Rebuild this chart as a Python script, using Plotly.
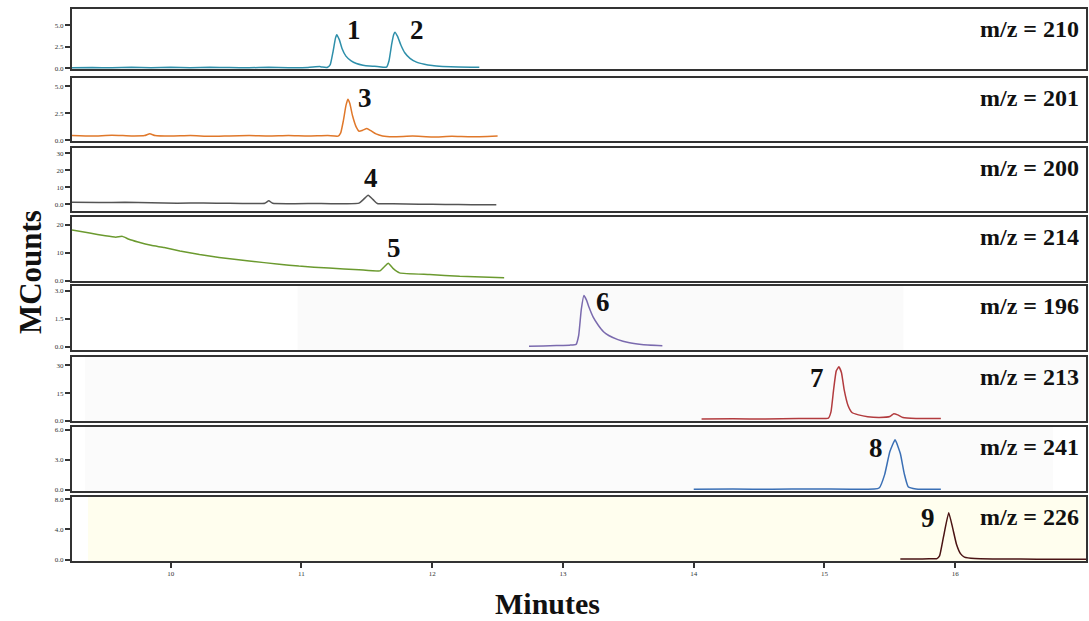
import plotly.graph_objects as go

# ---------------- data ----------------
panel_labels = ["m/z = 210", "m/z = 201", "m/z = 200", "m/z = 214",
                "m/z = 196", "m/z = 213", "m/z = 241", "m/z = 226"]

t_210 = [9.245, 9.40, 9.55, 9.70, 9.85, 10.00, 10.15, 10.30, 10.45, 10.60, 10.75, 10.90, 11.05, 11.14, 11.16,
         11.20, 11.22, 11.24, 11.26, 11.27, 11.29, 11.31, 11.34, 11.38, 11.42, 11.47, 11.52, 11.58, 11.65,
         11.67, 11.69, 11.705, 11.715, 11.735, 11.76, 11.79, 11.83, 11.88, 11.94, 12.00, 12.08, 12.20, 12.36]
y_210 = [0.05, 0.08, 0.04, 0.10, 0.06, 0.09, 0.05, 0.10, 0.07, 0.05, 0.09, 0.06, 0.08, 0.18, 0.12,
         0.10, 0.4, 1.8, 3.5, 3.9, 3.3, 2.3, 1.4, 0.85, 0.55, 0.35, 0.25, 0.2, 0.12,
         0.9, 2.8, 3.9, 4.2, 3.7, 2.7, 1.8, 1.15, 0.7, 0.45, 0.3, 0.2, 0.12, 0.1]

t_201 = [9.245, 9.40, 9.55, 9.70, 9.80, 9.84, 9.88, 10.00, 10.15, 10.30, 10.45, 10.60, 10.75, 10.90, 11.05,
         11.20, 11.28, 11.30, 11.32, 11.34, 11.355, 11.37, 11.39, 11.42, 11.44, 11.47, 11.50, 11.53, 11.57,
         11.62, 11.70, 11.85, 12.00, 12.15, 12.30, 12.50]
y_201 = [0.45, 0.40, 0.48, 0.42, 0.45, 0.62, 0.45, 0.40, 0.45, 0.38, 0.42, 0.45, 0.40, 0.45, 0.40,
         0.45, 0.40, 0.7, 1.8, 3.2, 3.8, 3.4, 2.3, 1.2, 0.85, 0.95, 1.1, 0.9, 0.6,
         0.42, 0.35, 0.40, 0.32, 0.38, 0.33, 0.42]

t_200 = [9.245, 9.45, 9.65, 9.85, 10.05, 10.25, 10.45, 10.65, 10.72, 10.75, 10.78, 10.95, 11.15, 11.35,
         11.44, 11.47, 11.51, 11.55, 11.58, 11.70, 11.90, 12.10, 12.30, 12.49]
y_200 = [1.2, 1.0, 1.1, 0.8, 0.6, 0.7, 0.5, 0.4, 0.6, 2.0, 0.5, 0.3, 0.4, 0.2,
         0.6, 2.5, 5.3, 2.5, 0.4, 0.2, 0.0, -0.2, -0.3, -0.3]

t_214 = [9.245, 9.38, 9.50, 9.58, 9.63, 9.68, 9.75, 9.85, 9.95, 10.07, 10.22, 10.37, 10.60, 10.83, 10.98,
         11.21, 11.44, 11.60, 11.63, 11.664, 11.70, 11.75, 11.98, 12.21, 12.55]
y_214 = [18.1, 17.0, 16.0, 15.5, 15.8, 14.8, 13.8, 12.6, 11.8, 10.6, 9.3, 8.3, 7.0, 5.9, 5.2,
         4.5, 3.9, 3.5, 4.8, 6.2, 4.4, 2.8, 2.2, 1.6, 1.1]

t_196 = [12.74, 12.85, 12.95, 13.05, 13.10, 13.12, 13.14, 13.16, 13.18, 13.20, 13.23, 13.27, 13.31, 13.35,
         13.42, 13.50, 13.60, 13.76]
y_196 = [0.02, 0.04, 0.06, 0.08, 0.12, 0.6, 2.0, 2.75, 2.5, 2.1, 1.6, 1.15, 0.8, 0.6,
         0.38, 0.22, 0.12, 0.05]

t_213 = [14.06, 14.30, 14.55, 14.80, 14.95, 15.03, 15.05, 15.07, 15.09, 15.11, 15.13, 15.15, 15.18, 15.21,
         15.26, 15.33, 15.42, 15.50, 15.53, 15.56, 15.60, 15.70, 15.89]
y_213 = [1.0, 1.1, 1.0, 1.2, 1.2, 1.5, 5.0, 17.0, 27.0, 29.2, 26.0, 17.0, 8.3, 4.5,
         3.2, 2.2, 1.8, 2.3, 3.8, 3.2, 1.8, 1.3, 1.2]

t_241 = [14.00, 14.30, 14.60, 14.90, 15.20, 15.38, 15.42, 15.46, 15.50, 15.54, 15.58, 15.61, 15.64, 15.70, 15.89]
y_241 = [0.05, 0.06, 0.05, 0.07, 0.05, 0.06, 0.2, 1.5, 3.8, 4.97, 3.6, 1.6, 0.3, 0.08, 0.05]

t_226 = [15.58, 15.70, 15.80, 15.86, 15.88, 15.91, 15.95, 15.98, 16.01, 16.04, 16.07, 16.15, 16.30, 16.50,
         16.75, 17.0]
y_226 = [0.1, 0.1, 0.12, 0.15, 0.5, 3.0, 6.2, 4.2, 2.0, 0.8, 0.35, 0.15, 0.1, 0.08, 0.05, 0.05]

series_t = [t_210, t_201, t_200, t_214, t_196, t_213, t_241, t_226]
series_y = [y_210, y_201, y_200, y_214, y_196, y_213, y_241, y_226]

ytick_vals = [[0, 2.5, 5.0], [0, 2.5, 5.0], [0, 10, 20, 30], [0, 10, 20],
              [0, 1.5, 3.0], [0, 15, 30], [0, 3.0, 6.0], [0, 4.0, 8.0]]
ytick_text = [["0.0", "2.5", "5.0"], ["0.0", "2.5", "5.0"], ["0.0", "10", "20", "30"], ["0.0", "10", "20"],
              ["0.0", "1.5", "3.0"], ["0.0", "15", "30"], ["0.0", "3.0", "6.0"], ["0.0", "4.0", "8.0"]]
xtick_vals = [10, 11, 12, 13, 14, 15, 16]

peak_names = ["1", "2", "3", "4", "5", "6", "7", "8", "9"]

# ---------------- style / layout ----------------
colors = ["#2E8FAA", "#E0782A", "#555555", "#6B9A2F", "#7A6AAE", "#B23B3E", "#3A6FB5", "#4A1414"]
y_ranges = [[-0.1, 6.9], [-0.05, 5.75], [-4, 33], [-0.1, 22.7],
            [-0.18, 3.26], [-0.1, 34.5], [-0.13, 6.25], [-0.17, 8.27]]
panel_px = [(9, 69), (78, 141), (148, 211), (217, 281), (286, 350), (357, 421), (427, 491), (497, 561)]

W, H = 1089, 621
ML, MR, MT, MB = 72, 1, 9, 60
PH = H - MT - MB  # 552


def py2paper(py):
    return (H - MB - py) / PH


XR = [9.245, 17.0]
PW = W - ML - MR


def px2t(px):
    return XR[0] + (px - ML) / PW * (XR[1] - XR[0])


serif = "Liberation Serif, Times New Roman, serif"
fig = go.Figure()

for i in range(8):
    n = i + 1
    fig.add_trace(go.Scatter(
        x=series_t[i], y=series_y[i], mode="lines",
        line=dict(color=colors[i], width=1.5, shape="spline", smoothing=0.4),
        xaxis="x" if n == 1 else f"x{n}", yaxis="y" if n == 1 else f"y{n}",
        showlegend=False, hoverinfo="skip"))

layout = dict(width=W, height=H, margin=dict(l=ML, r=MR, t=MT, b=MB),
              plot_bgcolor="rgba(0,0,0,0)", paper_bgcolor="white",
              font=dict(family=serif, color="#222"))

for i in range(8):
    n = i + 1
    top, bot = panel_px[i]
    xa = dict(range=XR, domain=[0, 1], anchor="y" if n == 1 else f"y{n}",
              showline=True, linecolor="#333", linewidth=2, mirror=True,
              showgrid=False, zeroline=False,
              tickvals=xtick_vals, ticktext=[str(v) for v in xtick_vals],
              tickfont=dict(size=7, family=serif, color="#333"))
    if n != 1:
        xa["matches"] = "x"
    if n == 8:
        xa.update(ticks="outside", ticklen=5, tickwidth=1.5, tickcolor="#333", showticklabels=True)
    else:
        xa.update(ticks="", showticklabels=False)
    ya = dict(range=y_ranges[i], domain=[py2paper(bot), py2paper(top)],
              anchor="x" if n == 1 else f"x{n}",
              showline=True, linecolor="#333", linewidth=2, mirror=True,
              showgrid=False, zeroline=False,
              tickvals=ytick_vals[i], ticktext=ytick_text[i],
              ticks="outside", ticklen=5, tickwidth=1.5, tickcolor="#333",
              tickfont=dict(size=7, family=serif, color="#333"))
    layout["xaxis" if n == 1 else f"xaxis{n}"] = xa
    layout["yaxis" if n == 1 else f"yaxis{n}"] = ya

fig.update_layout(**layout)

# faint background areas
bg = [(5, 298, 905, "#FAFAFA"), (6, 85, 1088, "#FBFBFB"), (7, 85, 1055, "#FBFBFB"), (8, 88, 1088, "#FFFEEE")]
for n, p0, p1, c in bg:
    fig.add_shape(type="rect", xref=f"x{n}", yref=f"y{n} domain", x0=px2t(p0), x1=px2t(p1), y0=0, y1=1,
                  fillcolor=c, line=dict(width=0), layer="below")

# m/z labels
for i in range(8):
    top, bot = panel_px[i]
    fig.add_annotation(text=f"<b>{panel_labels[i]}</b>", xref="paper", yref="paper",
                       x=(1083 - ML) / PW, y=py2paper(top + 20), xanchor="right", yanchor="middle",
                       showarrow=False, font=dict(size=24, family=serif, color="#111"))

# peak number labels (pixel positions)
peak_pos = [(355, 30), (418, 30), (366, 98), (372, 178), (395, 248), (604, 302), (818, 378), (878, 448), (930, 518)]
for name, (px, pyy) in zip(peak_names, peak_pos):
    fig.add_annotation(text=f"<b>{name}</b>", xref="x", yref="paper", x=px2t(px), y=py2paper(pyy),
                       xanchor="center", yanchor="middle", showarrow=False,
                       font=dict(size=27, family=serif, color="#111"))

# axis titles
fig.add_annotation(text="<b>Minutes</b>", xref="paper", yref="paper", x=(548 - ML) / PW, y=py2paper(603),
                   xanchor="center", yanchor="middle", showarrow=False,
                   font=dict(size=30, family=serif, color="#111"))
fig.add_annotation(text="<b>MCounts</b>", xref="paper", yref="paper", x=(30 - ML) / PW, y=py2paper(272),
                   xanchor="center", yanchor="middle", showarrow=False, textangle=-90,
                   font=dict(size=31, family=serif, color="#111"))

fig.write_html("out.html", config={"displayModeBar": False},
               post_script="document.body.style.margin='0px';document.body.style.overflow='hidden';")
